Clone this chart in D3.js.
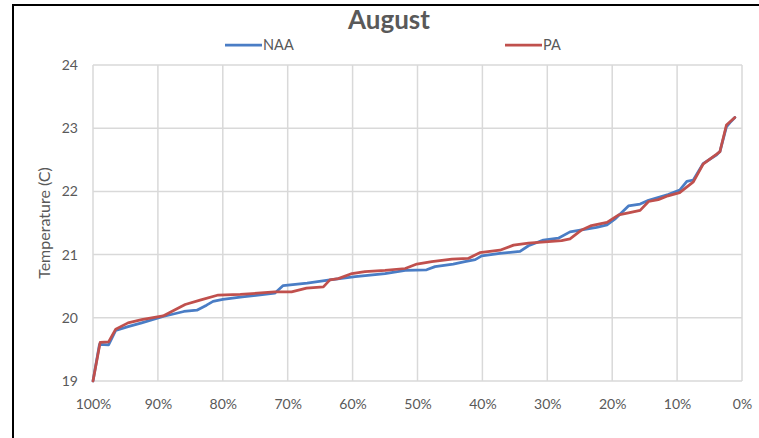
<!DOCTYPE html>
<html>
<head>
<meta charset="utf-8">
<script src="https://cdn.jsdelivr.net/npm/d3@7"></script>
<style>
  html, body { margin: 0; padding: 0; background: #fff; }
  svg { display: block; }
  text { font-family: Lato, "Open Sans", sans-serif; fill: #595959; }
</style>
</head>
<body>
<svg id="chart" width="759" height="438"></svg>
<script>
// Exceedance (% of time) and temperature (C) for each series
const naaPct = [100, 99.0, 97.6, 96.5, 94.6, 92.5, 89.2, 86, 84, 82.5, 81.5, 80.0, 77, 72, 70.7, 67, 63.5, 59.6, 55, 51.9, 48.6, 47.3, 44.5, 42.7, 41.1, 40.1, 37.3, 34.2, 32.9, 30.6, 28.3, 26.5, 24.7, 22.4, 20.8, 19.6, 17.5, 15.7, 14.4, 11.4, 9.6, 8.5, 7.5, 6.0, 3.9, 3.4, 2.4, 1.85, 1.1];
const naaTemp = [19.0, 19.58, 19.57, 19.80, 19.86, 19.92, 20.02, 20.10, 20.12, 20.20, 20.26, 20.29, 20.33, 20.39, 20.51, 20.55, 20.60, 20.65, 20.70, 20.75, 20.76, 20.81, 20.85, 20.89, 20.92, 20.98, 21.02, 21.05, 21.14, 21.23, 21.26, 21.36, 21.39, 21.43, 21.47, 21.56, 21.77, 21.80, 21.86, 21.95, 22.02, 22.16, 22.18, 22.44, 22.58, 22.63, 23.02, 23.09, 23.17];

const paPct = [100, 98.9, 97.6, 96.5, 94.6, 92.5, 89.2, 87.5, 85.8, 83.5, 80.7, 77.3, 72, 69.4, 67.1, 64.5, 63.5, 62.2, 60.1, 58.1, 55, 51.9, 50.1, 47.8, 44.7, 42.2, 40.4, 37.3, 35.2, 32.9, 27.8, 26.5, 24.7, 23.2, 20.8, 19.0, 17.5, 15.7, 14.4, 12.9, 11.4, 9.6, 7.5, 6.0, 3.9, 3.4, 2.4, 1.1];
const paTemp = [19.0, 19.61, 19.62, 19.82, 19.92, 19.97, 20.03, 20.12, 20.21, 20.28, 20.36, 20.37, 20.41, 20.41, 20.47, 20.49, 20.60, 20.62, 20.70, 20.73, 20.75, 20.78, 20.85, 20.89, 20.93, 20.94, 21.03, 21.07, 21.15, 21.18, 21.22, 21.25, 21.39, 21.46, 21.51, 21.63, 21.66, 21.70, 21.84, 21.87, 21.93, 21.98, 22.15, 22.43, 22.59, 22.63, 23.05, 23.17];

const xTicks = [100, 90, 80, 70, 60, 50, 40, 30, 20, 10, 0];
const yTicks = [19, 20, 21, 22, 23, 24];

const seriesNames = ["NAA", "PA"];
const seriesColors = ["#4a7dc5", "#c0504d"];

const svg = d3.select("#chart");
const plot = { left: 93, right: 742, top: 65, bottom: 381 };

const x = d3.scaleLinear().domain([100, 0]).range([plot.left, plot.right]);
const y = d3.scaleLinear().domain([19, 24]).range([plot.bottom, plot.top]);

// outer frame (left and top edges)
svg.append("path")
  .attr("d", "M13,438 V5 H759")
  .attr("fill", "none")
  .attr("stroke", "#000")
  .attr("stroke-width", 2);

// grid
const grid = svg.append("g").attr("stroke", "#d9d9d9").attr("stroke-width", 1.5);
grid.selectAll("line.h").data(yTicks).join("line")
  .attr("x1", plot.left).attr("x2", plot.right)
  .attr("y1", d => y(d)).attr("y2", d => y(d));
grid.selectAll("line.v").data(xTicks).join("line")
  .attr("y1", plot.top).attr("y2", plot.bottom)
  .attr("x1", d => x(d)).attr("x2", d => x(d));

// axes (labels only)
const xAxis = svg.append("g")
  .attr("transform", `translate(0,${plot.bottom})`)
  .call(d3.axisBottom(x).tickValues(xTicks).tickFormat(d => d + "%").tickSize(0).tickPadding(18));
const yAxis = svg.append("g")
  .attr("transform", `translate(${plot.left},0)`)
  .call(d3.axisLeft(y).tickValues(yTicks).tickFormat(d3.format("d")).tickSize(0).tickPadding(15));
[xAxis, yAxis].forEach(a => {
  a.select(".domain").remove();
  a.selectAll("text").attr("font-size", 14).attr("fill", "#595959")
    .style("font-family", "Lato, 'Open Sans', sans-serif");
});

// y axis title
svg.append("text")
  .attr("transform", `translate(50,${(plot.top + plot.bottom) / 2}) rotate(-90)`)
  .attr("text-anchor", "middle")
  .attr("font-size", 16)
  .text("Temperature (C)");

// title
svg.append("text")
  .attr("x", 389).attr("y", 29)
  .attr("text-anchor", "middle")
  .attr("font-size", 26)
  .attr("font-weight", "bold")
  .text("August");

// lines
const line = d3.line().x(d => x(d[0])).y(d => y(d[1]));
const series = [
  d3.zip(naaPct, naaTemp),
  d3.zip(paPct, paTemp)
];
svg.append("g").selectAll("path").data(series).join("path")
  .attr("d", line)
  .attr("fill", "none")
  .attr("stroke", (d, i) => seriesColors[i])
  .attr("stroke-width", 2.75)
  .attr("stroke-linejoin", "round")
  .attr("stroke-linecap", "round");

// legend
const legendX = [225, 505];
const lg = svg.append("g").selectAll("g").data(seriesNames).join("g")
  .attr("transform", (d, i) => `translate(${legendX[i]},45)`);
lg.append("line")
  .attr("x1", 0).attr("x2", 37).attr("y1", 0).attr("y2", 0)
  .attr("stroke", (d, i) => seriesColors[i])
  .attr("stroke-width", 2.75);
lg.append("text")
  .attr("x", 38).attr("y", 5)
  .attr("font-size", 14.5)
  .text(d => d);
</script>
</body>
</html>
